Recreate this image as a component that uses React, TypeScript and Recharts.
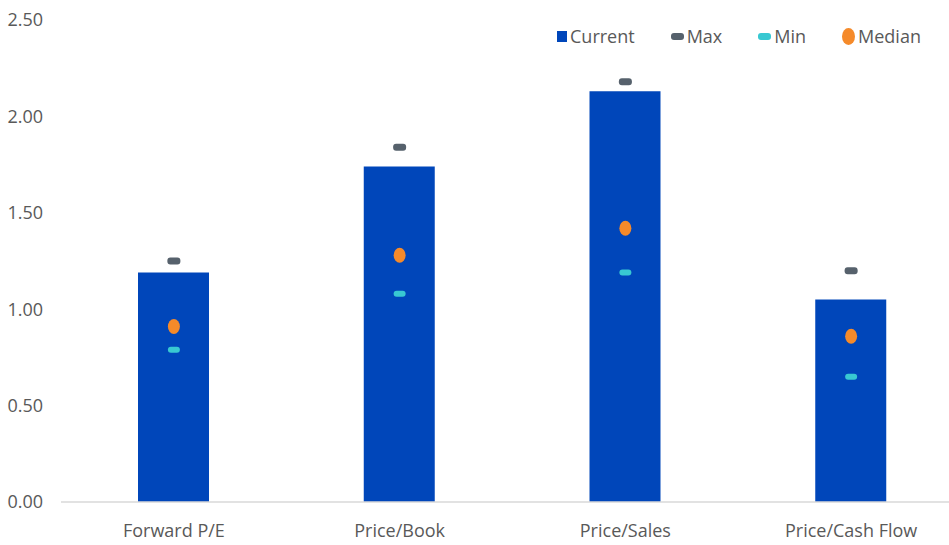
import React from 'react';
import { ComposedChart, Bar, Line, XAxis, YAxis } from 'recharts';

const categories = ['Forward P/E', 'Price/Book', 'Price/Sales', 'Price/Cash Flow'];
const currentValues = [1.19, 1.74, 2.13, 1.05];
const maxValues = [1.25, 1.84, 2.18, 1.2];
const minValues = [0.79, 1.08, 1.19, 0.65];
const medianValues = [0.91, 1.28, 1.42, 0.86];
const yTicks = [0, 0.5, 1, 1.5, 2, 2.5];

const data = categories.map((name, i) => ({
  name,
  current: currentValues[i],
  max: maxValues[i],
  min: minValues[i],
  median: medianValues[i],
}));

const BLUE = '#0046BA';
const GRAY = '#56616C';
const CYAN = '#38C8D2';
const ORANGE = '#F58A2A';
const TEXT = '#595959';
const FONT = '"Open Sans", "Liberation Sans", sans-serif';

const MaxDot = (props: any) => (
  <rect key={`max-${props.index}`} x={props.cx - 6.5} y={props.cy - 3.5} width={13} height={7} rx={3} fill={GRAY} />
);
const MinDot = (props: any) => (
  <rect key={`min-${props.index}`} x={props.cx - 6} y={props.cy - 3} width={12} height={6} rx={3} fill={CYAN} />
);
const MedianDot = (props: any) => (
  <ellipse key={`med-${props.index}`} cx={props.cx} cy={props.cy} rx={6} ry={7.5} fill={ORANGE} />
);

const legendItems = [
  { label: 'Current', icon: <span style={{ display: 'inline-block', width: 10, height: 11, background: BLUE }} /> },
  { label: 'Max', icon: <span style={{ display: 'inline-block', width: 13, height: 7, borderRadius: 3, background: GRAY }} /> },
  { label: 'Min', icon: <span style={{ display: 'inline-block', width: 13, height: 7, borderRadius: 3, background: CYAN }} /> },
  { label: 'Median', icon: <span style={{ display: 'inline-block', width: 13, height: 17, borderRadius: '50%', background: ORANGE }} /> },
];

// legend drawn as plain html so it doesn't eat into the plot area
const ChartLegend = () => (
  <div
    style={{
      position: 'absolute',
      top: 24,
      left: 557,
      display: 'flex',
      alignItems: 'center',
      fontFamily: FONT,
      fontSize: 18,
      color: TEXT,
      lineHeight: '24px',
    }}
  >
    {legendItems.map((item) => (
      <div key={item.label} style={{ display: 'flex', alignItems: 'center', marginRight: 36 }}>
        {item.icon}
        <span style={{ marginLeft: 3 }}>{item.label}</span>
      </div>
    ))}
  </div>
);

export default function App() {
  return (
    <div style={{ position: 'absolute', left: 0, top: 0, width: 949, height: 545, overflow: 'hidden', background: '#fff' }}>
      <ComposedChart
        width={964}
        height={545}
        data={data}
        margin={{ top: 20, right: 0, left: 0, bottom: 0 }}
        barSize={71}
      >
        <XAxis
          dataKey="name"
          height={43}
          tickLine={false}
          axisLine={{ stroke: '#D9D9D9', strokeWidth: 1.5 }}
          tick={{ fill: TEXT, fontSize: 18, fontFamily: FONT }}
          tickMargin={16}
          interval={0}
        />
        <YAxis
          width={61}
          domain={[0, 2.5]}
          ticks={yTicks}
          axisLine={false}
          tickLine={false}
          tickMargin={12}
          tickFormatter={(v: number) => v.toFixed(2)}
          tick={{ fill: TEXT, fontSize: 18, fontFamily: FONT }}
        />
        <Bar dataKey="current" name="Current" fill={BLUE} isAnimationActive={false} />
        <Line dataKey="max" name="Max" stroke="none" dot={MaxDot} activeDot={false} isAnimationActive={false} />
        <Line dataKey="min" name="Min" stroke="none" dot={MinDot} activeDot={false} isAnimationActive={false} />
        <Line dataKey="median" name="Median" stroke="none" dot={MedianDot} activeDot={false} isAnimationActive={false} />
      </ComposedChart>
      <ChartLegend />
    </div>
  );
}
